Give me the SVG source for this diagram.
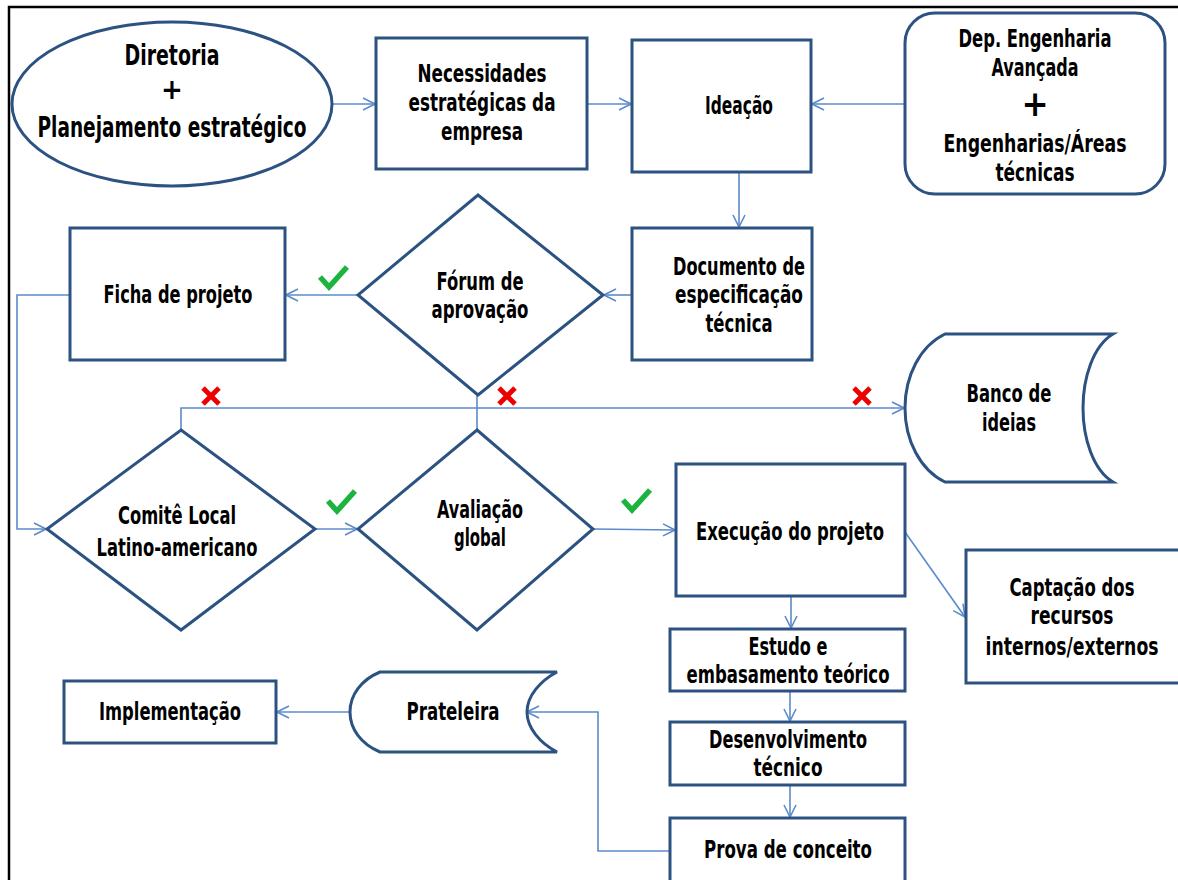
<svg xmlns="http://www.w3.org/2000/svg" width="1178" height="880" viewBox="0 0 1178 880">
  <style>
    .box { fill: #ffffff; stroke: #2c5282; stroke-width: 3; }
    .lbl { font-family: "DejaVu Sans Condensed", "DejaVu Sans", "Liberation Sans", sans-serif; font-weight: bold; font-size: 25px; fill: #000; text-anchor: middle; }
    .big { font-size: 29px; }
    .con { fill: none; stroke: #5b8bcb; stroke-width: 1.6; }
    .ok { fill: none; stroke: #1db33f; stroke-width: 5.5; stroke-linecap: butt; stroke-linejoin: miter; }
    .no { stroke: #ee0000; stroke-width: 5; }
  </style>
  <defs>
    <marker id="arrow" markerUnits="userSpaceOnUse" markerWidth="14" markerHeight="14" viewBox="0 0 14 14" refX="13" refY="7" orient="auto">
      <path d="M1,1 L13,7 L1,13" fill="none" stroke="#5b8bcb" stroke-width="1.6"/>
    </marker>
  </defs>

  <rect width="1178" height="880" fill="#ffffff"/>
  <!-- page frame -->
  <path d="M9,880 V7 H1178" fill="none" stroke="#000" stroke-width="2.5"/>

  <!-- connectors -->
  <g id="connectors">
    <path class="con" d="M333,104 H375" marker-end="url(#arrow)"/>
    <path class="con" d="M587,104 H631" marker-end="url(#arrow)"/>
    <path class="con" d="M905,104 H812" marker-end="url(#arrow)"/>
    <path class="con" d="M739,172 V227" marker-end="url(#arrow)"/>
    <path class="con" d="M632,295 H604" marker-end="url(#arrow)"/>
    <path class="con" d="M358,295 H286" marker-end="url(#arrow)"/>
    <path class="con" d="M70,295 H17 V529 H46" marker-end="url(#arrow)"/>
    <path class="con" d="M477,395 V430"/>
    <path class="con" d="M181,430 V408 H904" marker-end="url(#arrow)"/>
    <path class="con" d="M315,529 H357" marker-end="url(#arrow)"/>
    <path class="con" d="M593,529 L675,530" marker-end="url(#arrow)"/>
    <path class="con" d="M791,596 V628" marker-end="url(#arrow)"/>
    <path class="con" d="M905,532 L965,617" marker-end="url(#arrow)"/>
    <path class="con" d="M790,691 V721" marker-end="url(#arrow)"/>
    <path class="con" d="M790,785 V817" marker-end="url(#arrow)"/>
    <path class="con" d="M670,851 H598 V712 H527" marker-end="url(#arrow)"/>
    <path class="con" d="M350,712 H277" marker-end="url(#arrow)"/>
  </g>

  <!-- decision marks -->
  <g id="marks">
    <path class="ok" d="M320,277 L329,287 L347,267"/>
    <path class="ok" d="M328,501 L337,511 L355,491"/>
    <path class="ok" d="M623,500 L632,510 L650,490"/>
    <g class="no">
      <line x1="203" y1="388" x2="219" y2="404"/><line x1="219" y1="388" x2="203" y2="404"/>
      <line x1="499" y1="388" x2="515" y2="404"/><line x1="515" y1="388" x2="499" y2="404"/>
      <line x1="854" y1="388" x2="870" y2="404"/><line x1="870" y1="388" x2="854" y2="404"/>
    </g>
  </g>

  <g id="diretoria">
    <ellipse class="box" cx="172" cy="104" rx="160" ry="82"/>
    <text class="lbl big" x="172" y="65" textLength="95" lengthAdjust="spacingAndGlyphs">Diretoria</text>
    <text class="lbl big" x="172" y="99">+</text>
    <text class="lbl big" x="172" y="137" textLength="269" lengthAdjust="spacingAndGlyphs">Planejamento estratégico</text>
  </g>

  <g id="necessidades">
    <rect class="box" x="376" y="38" width="211" height="131"/>
    <text class="lbl" x="482" y="82" textLength="129" lengthAdjust="spacingAndGlyphs">Necessidades</text>
    <text class="lbl" x="482" y="111" textLength="147" lengthAdjust="spacingAndGlyphs">estratégicas da</text>
    <text class="lbl" x="482" y="140" textLength="82" lengthAdjust="spacingAndGlyphs">empresa</text>
  </g>

  <g id="ideacao">
    <rect class="box" x="632" y="40" width="179" height="132"/>
    <text class="lbl" x="739" y="114" textLength="68" lengthAdjust="spacingAndGlyphs">Ideação</text>
  </g>

  <g id="engenharia">
    <rect class="box" x="905" y="13" width="260" height="181" rx="30"/>
    <text class="lbl" x="1035" y="47" textLength="153" lengthAdjust="spacingAndGlyphs">Dep. Engenharia</text>
    <text class="lbl" x="1035" y="76" textLength="87" lengthAdjust="spacingAndGlyphs">Avançada</text>
    <text class="lbl" x="1035" y="116" style="font-size:36px">+</text>
    <text class="lbl" x="1035" y="152" textLength="183" lengthAdjust="spacingAndGlyphs">Engenharias/Áreas</text>
    <text class="lbl" x="1035" y="181" textLength="79" lengthAdjust="spacingAndGlyphs">técnicas</text>
  </g>

  <g id="documento">
    <rect class="box" x="632" y="228" width="180" height="132"/>
    <text class="lbl" x="739" y="275" textLength="132" lengthAdjust="spacingAndGlyphs">Documento de</text>
    <text class="lbl" x="739" y="303" textLength="128" lengthAdjust="spacingAndGlyphs">especificação</text>
    <text class="lbl" x="739" y="332" textLength="67" lengthAdjust="spacingAndGlyphs">técnica</text>
  </g>

  <g id="forum">
    <polygon class="box" points="478,195 603,295 478,395 358,295"/>
    <text class="lbl" x="480" y="290" textLength="87" lengthAdjust="spacingAndGlyphs">Fórum de</text>
    <text class="lbl" x="480" y="318" textLength="97" lengthAdjust="spacingAndGlyphs">aprovação</text>
  </g>

  <g id="ficha">
    <rect class="box" x="70" y="228" width="215" height="132"/>
    <text class="lbl" x="178" y="303" textLength="149" lengthAdjust="spacingAndGlyphs">Ficha de projeto</text>
  </g>

  <g id="banco">
    <path class="box" d="M945,334 L1113,334 C1093,346 1083,378 1083,408 C1083,438 1093,470 1113,482 L945,482 C920,470 905,440 905,408 C905,376 920,346 945,334 Z"/>
    <text class="lbl" x="1009" y="402" textLength="85" lengthAdjust="spacingAndGlyphs">Banco de</text>
    <text class="lbl" x="1009" y="431" textLength="54" lengthAdjust="spacingAndGlyphs">ideias</text>
  </g>

  <g id="comite">
    <polygon class="box" points="181,430 315,529 181,630 47,529"/>
    <text class="lbl" x="177" y="524" textLength="118" lengthAdjust="spacingAndGlyphs">Comitê Local</text>
    <text class="lbl" x="177" y="556" textLength="161" lengthAdjust="spacingAndGlyphs">Latino-americano</text>
  </g>

  <g id="avaliacao">
    <polygon class="box" points="477,430 593,529 477,630 358,529"/>
    <text class="lbl" x="480" y="518" textLength="86" lengthAdjust="spacingAndGlyphs">Avaliação</text>
    <text class="lbl" x="480" y="546" textLength="52" lengthAdjust="spacingAndGlyphs">global</text>
  </g>

  <g id="execucao">
    <rect class="box" x="676" y="464" width="229" height="132"/>
    <text class="lbl" x="790" y="540" textLength="188" lengthAdjust="spacingAndGlyphs">Execução do projeto</text>
  </g>

  <g id="captacao">
    <rect class="box" x="966" y="550" width="214" height="133"/>
    <text class="lbl" x="1072" y="596" textLength="125" lengthAdjust="spacingAndGlyphs">Captação dos</text>
    <text class="lbl" x="1072" y="624" textLength="83" lengthAdjust="spacingAndGlyphs">recursos</text>
    <text class="lbl" x="1072" y="655" textLength="173" lengthAdjust="spacingAndGlyphs">internos/externos</text>
  </g>

  <g id="estudo">
    <rect class="box" x="670" y="629" width="235" height="62"/>
    <text class="lbl" x="788" y="655" textLength="79" lengthAdjust="spacingAndGlyphs">Estudo e</text>
    <text class="lbl" x="788" y="683" textLength="203" lengthAdjust="spacingAndGlyphs">embasamento teórico</text>
  </g>

  <g id="desenvolvimento">
    <rect class="box" x="670" y="722" width="235" height="63"/>
    <text class="lbl" x="788" y="748" textLength="158" lengthAdjust="spacingAndGlyphs">Desenvolvimento</text>
    <text class="lbl" x="788" y="776" textLength="69" lengthAdjust="spacingAndGlyphs">técnico</text>
  </g>

  <g id="prova">
    <rect class="box" x="670" y="818" width="235" height="70"/>
    <text class="lbl" x="788" y="858" textLength="168" lengthAdjust="spacingAndGlyphs">Prova de conceito</text>
  </g>

  <g id="prateleira">
    <path class="box" d="M380,672 L557,672 C540,681 527,696 527,712 C527,728 540,743 557,752 L380,752 C361,744 350,729 350,712 C350,695 361,680 380,672 Z"/>
    <text class="lbl" x="453" y="720" textLength="93" lengthAdjust="spacingAndGlyphs">Prateleira</text>
  </g>

  <g id="implementacao">
    <rect class="box" x="64" y="681" width="212" height="62"/>
    <text class="lbl" x="170" y="720" textLength="142" lengthAdjust="spacingAndGlyphs">Implementação</text>
  </g>
</svg>
